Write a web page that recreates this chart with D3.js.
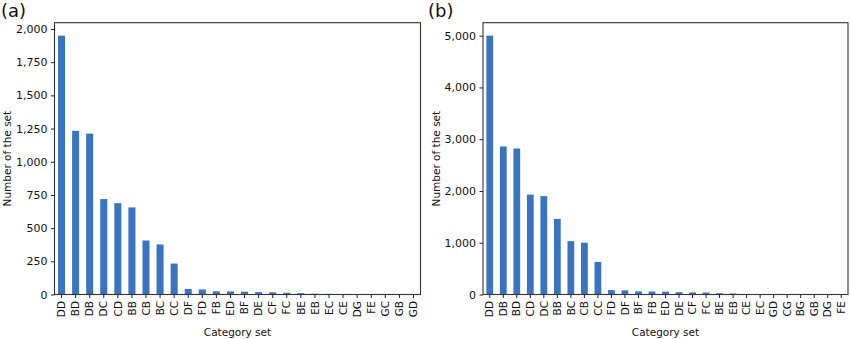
<!DOCTYPE html>
<html>
<head>
<meta charset="utf-8">
<script src="https://cdn.jsdelivr.net/npm/d3@7"></script>
<style>
  html, body { margin: 0; padding: 0; background: #fff; }
  svg { display: block; font-family: "DejaVu Sans", sans-serif; }
</style>
</head>
<body>
<svg id="chart" width="850" height="339"></svg>
<script>
// Panel (a): category sets and their counts
const categoriesA = ["DD","BD","DB","DC","CD","BB","CB","BC","CC","DF","FD","FB","ED","BF","DE","CF","FC","BE","EB","EC","CE","DG","FE","GC","GB","GD"];
const valuesA     = [1950,1233,1212,719,688,656,407,377,233,42,38,24,23,21,18,16,13,10,6,5,4,3,2,1,1,1];
const ticksA      = [0,250,500,750,1000,1250,1500,1750,2000];

// Panel (b): category sets and their counts
const categoriesB = ["DD","DB","BD","CD","DC","BB","BC","CB","CC","FD","DF","BF","FB","ED","DE","CF","FC","BE","EB","CE","EC","GD","CG","BG","GB","DG","FE"];
const valuesB     = [5000,2860,2820,1930,1900,1460,1030,1000,630,85,80,60,58,55,45,40,38,25,20,10,8,5,3,2,2,1,1];
const ticksB      = [0,1000,2000,3000,4000,5000];

const barColor = "#3a74c0";
const svg = d3.select("#chart");

function panel(opts) {
  const { left, right, top, bottom, cats, vals, ticks, tag, yLabelX } = opts;
  const g = svg.append("g");
  const maxV = d3.max(vals) * 1.05;

  const x = d3.scaleBand().domain(cats).range([left, right]).paddingInner(0.5).paddingOuter(0.25);
  const y = d3.scaleLinear().domain([0, maxV]).range([bottom, top]);

  // bars
  g.selectAll("rect.bar").data(cats).join("rect")
    .attr("class", "bar")
    .attr("x", d => x(d))
    .attr("width", x.bandwidth())
    .attr("y", (d, i) => y(vals[i]))
    .attr("height", (d, i) => y(0) - y(vals[i]))
    .attr("fill", barColor);

  // y axis
  const ya = g.append("g").attr("transform", `translate(${left},0)`)
    .call(d3.axisLeft(y).tickValues(ticks).tickFormat(d3.format(",")).tickSize(3.5).tickPadding(3.5));
  ya.select(".domain").remove();
  ya.selectAll("line").attr("stroke", "#222");
  ya.selectAll("text").attr("font-size", 11).attr("fill", "#111").attr("font-family", "DejaVu Sans, sans-serif");

  // x axis
  const xa = g.append("g").attr("transform", `translate(0,${bottom})`)
    .call(d3.axisBottom(x).tickSize(3.5).tickPadding(3));
  xa.select(".domain").remove();
  xa.selectAll("line").attr("stroke", "#222");
  xa.selectAll("text")
    .attr("font-size", 10.5).attr("fill", "#111").attr("font-family", "DejaVu Sans, sans-serif")
    .attr("transform", "rotate(-90)")
    .attr("text-anchor", "end")
    .attr("x", -6.5).attr("y", 0).attr("dy", "0.35em");

  // frame
  g.append("rect")
    .attr("x", left).attr("y", top)
    .attr("width", right - left).attr("height", bottom - top)
    .attr("fill", "none").attr("stroke", "#333").attr("stroke-width", 1.1);

  // axis titles
  g.append("text")
    .attr("transform", `translate(${yLabelX},${(top + bottom) / 2}) rotate(-90)`)
    .attr("text-anchor", "middle").attr("dy", "0.35em")
    .attr("font-size", 10.5).attr("fill", "#111")
    .text("Number of the set");
  g.append("text")
    .attr("x", (left + right) / 2).attr("y", 332)
    .attr("text-anchor", "middle").attr("dy", "0.35em")
    .attr("font-size", 10.5).attr("fill", "#111")
    .text("Category set");

  // panel tag
  g.append("text")
    .attr("x", tag.x).attr("y", tag.y)
    .attr("font-size", 18).attr("fill", "#111")
    .text(tag.text);
}

panel({ left: 54.5, right: 420.5, top: 22.7, bottom: 294.5, cats: categoriesA, vals: valuesA, ticks: ticksA,
        tag: { x: 1, y: 17, text: "(a)" }, yLabelX: 7 });
panel({ left: 483, right: 848, top: 22.7, bottom: 294.5, cats: categoriesB, vals: valuesB, ticks: ticksB,
        tag: { x: 428, y: 17, text: "(b)" }, yLabelX: 436 });
</script>
</body>
</html>
